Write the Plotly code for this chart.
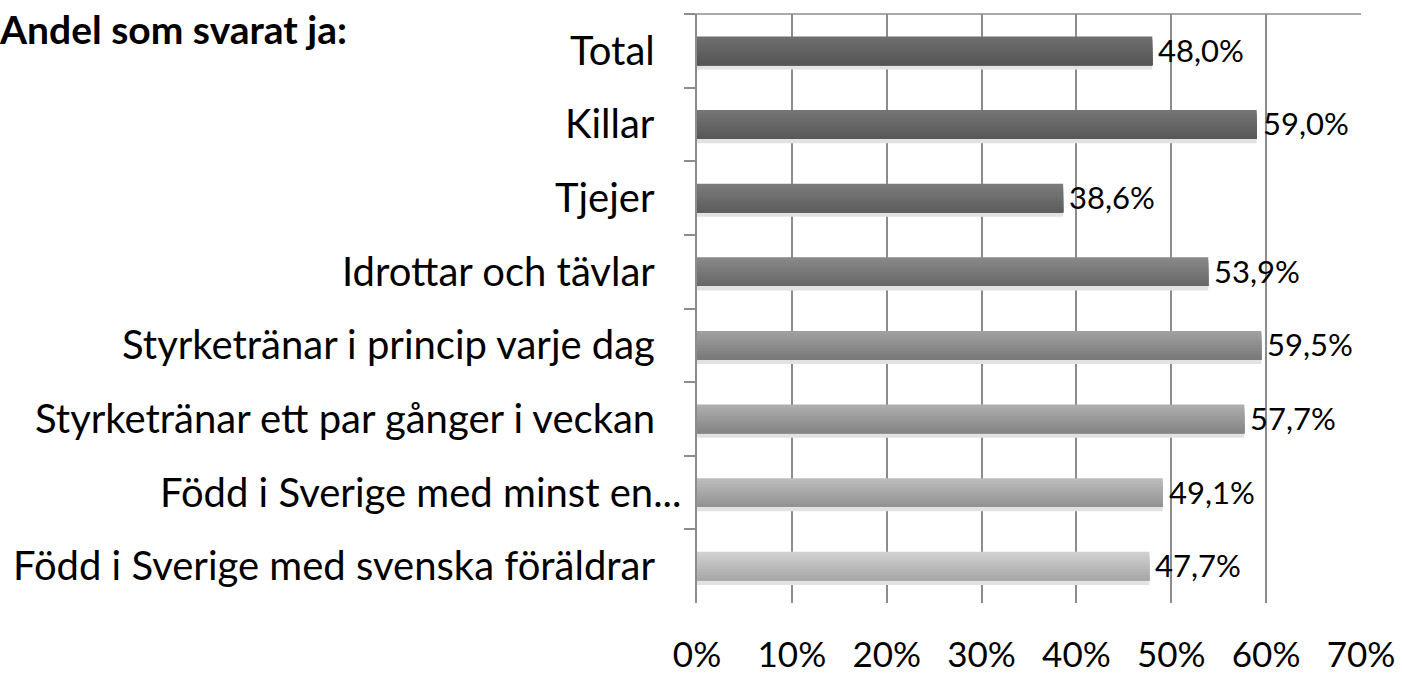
import plotly.graph_objects as go

categories = [
    "Total",
    "Killar",
    "Tjejer",
    "Idrottar och tävlar",
    "Styrketränar i princip varje dag",
    "Styrketränar ett par gånger i veckan",
    "Född i Sverige med minst en...",
    "Född i Sverige med svenska föräldrar",
]
values = [48.0, 59.0, 38.6, 53.9, 59.5, 57.7, 49.1, 47.7]
value_labels = ["48,0%", "59,0%", "38,6%", "53,9%", "59,5%", "57,7%", "49,1%", "47,7%"]
tick_vals = [0, 10, 20, 30, 40, 50, 60, 70]
tick_text = ["0%", "10%", "20%", "30%", "40%", "50%", "60%", "70%"]
top_colors = ["#6e6e6e", "#747474", "#7a7a7a", "#888888", "#a0a0a0", "#adadad", "#bcbcbc", "#d0d0d0"]
bottom_colors = ["#555555", "#595959", "#5e5e5e", "#686868", "#7a7a7a", "#858585", "#939393", "#a8a8a8"]
title_text = "Andel som svarat ja:"

FONT = "Lato"
FS = 40
GRID = "#8c8c8c"
BW = 0.39
NBANDS = 10


def hex_to_rgb(h):
    h = h.lstrip("#")
    return tuple(int(h[i:i + 2], 16) for i in (0, 2, 4))


def mix(c1, c2, t):
    a, b = hex_to_rgb(c1), hex_to_rgb(c2)
    return "rgb(%d,%d,%d)" % tuple(round(a[i] + (b[i] - a[i]) * t) for i in range(3))


fig = go.Figure()

# soft shadow under each bar
fig.add_trace(go.Bar(
    y=categories, x=values, orientation="h",
    width=0.07, offset=BW / 2 - 0.01,
    marker=dict(color="#e2e2e2", line=dict(width=0)),
    hoverinfo="skip",
))

# vertical gradient (top lighter -> bottom darker); each band reaches to the bar bottom
for k in range(NBANDS):
    t = k / (NBANDS - 1)
    start = -BW / 2 + k * BW / NBANDS
    fig.add_trace(go.Bar(
        y=categories, x=values, orientation="h",
        width=BW / 2 - start, offset=start,
        marker=dict(color=[mix(top_colors[i], bottom_colors[i], t) for i in range(len(categories))],
                    line=dict(width=0)),
        hoverinfo="skip",
    ))

annotations = []
# value labels just right of each bar
for cat, v, lab in zip(categories, values, value_labels):
    annotations.append(dict(
        x=v, y=cat, xref="x", yref="y", text=lab, showarrow=False,
        xanchor="left", yanchor="middle", xshift=4, yshift=1,
        font=dict(family=FONT, size=31, color="#000000"),
    ))
# category labels
for cat in categories:
    shift = -14 if cat.endswith("...") else -40
    annotations.append(dict(
        x=0, y=cat, xref="x", yref="y", text=cat, showarrow=False,
        xanchor="right", yanchor="middle", xshift=shift, yshift=1,
        font=dict(family=FONT, size=FS, color="#000000"),
    ))

L, R, T, B = 697, 41, 14, 73
plot_w = 1402 - L - R
plot_h = 676 - T - B
title_px_x, title_px_y = -3, 29
annotations.append(dict(
    x=(title_px_x - L) / plot_w, y=1 - (title_px_y - T) / plot_h,
    xref="paper", yref="paper", text="<b>" + title_text + "</b>",
    showarrow=False, xanchor="left", yanchor="middle",
    font=dict(family=FONT, size=39, color="#000000"),
))

fig.update_layout(
    width=1402, height=676,
    margin=dict(l=L, r=R, t=T, b=B, autoexpand=False),
    paper_bgcolor="white", plot_bgcolor="white",
    showlegend=False,
    barmode="overlay",
    font=dict(family=FONT, size=FS, color="#000000"),
    xaxis=dict(
        range=[0, 70], tickvals=tick_vals, ticktext=tick_text,
        showgrid=True, gridcolor=GRID, gridwidth=1.5,
        zeroline=False, showline=False, ticks="",
        ticklabelstandoff=28,
        tickfont=dict(family=FONT, size=35, color="#000000"),
        fixedrange=True,
    ),
    yaxis=dict(
        autorange="reversed", type="category",
        showticklabels=False, tickson="boundaries",
        ticks="outside", ticklen=11, tickwidth=1.5, tickcolor=GRID,
        showline=True, linecolor=GRID, linewidth=1.5,
        showgrid=False, zeroline=False, fixedrange=True,
    ),
    shapes=[dict(type="line", xref="paper", yref="paper", x0=-11 / plot_w, x1=1, y0=1, y1=1,
                 line=dict(color=GRID, width=1.5))],
    annotations=annotations,
)

fig.write_html(
    "out.html",
    config={"displayModeBar": False},
    post_script="document.body.style.margin='0';document.body.style.overflow='hidden';",
)
